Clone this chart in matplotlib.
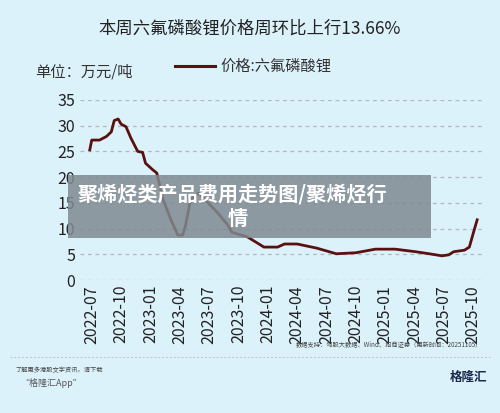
import matplotlib
matplotlib.use("Agg")
import matplotlib.pyplot as plt
from matplotlib.patches import Rectangle

plt.rcParams['font.family'] = ['Noto Sans CJK SC', 'DejaVu Sans']

months = [-0.2,0.0,0.8,1.5,2.0,2.3,2.7,3.0,3.5,4.0,4.7,5.2,5.5,6.25,6.65,7.3,8.1,8.8,9.3,9.6,10.1,10.9,11.9,12.9,13.9,14.3,15.9,17.6,19.0,19.7,21.0,23.0,25.0,27.0,29.0,31.0,33.1,34.5,35.8,36.5,37.0,38.1,38.6,39.0,39.4]
price = [25.3,27.2,27.2,27.9,28.8,31.0,31.3,30.3,29.8,27.6,25.0,24.8,22.7,21.4,20.8,15.6,11.7,8.75,8.75,10.7,15.6,16.9,15.0,13.0,10.7,9.3,8.4,6.4,6.4,7.0,7.0,6.2,5.1,5.3,6.0,6.0,5.5,5.1,4.7,4.9,5.5,5.8,6.4,9.1,11.7]
tick_pos = list(range(0, 40, 3))
tick_labels = ["2022-07","2022-10","2023-01","2023-04","2023-07","2023-10","2024-01","2024-04","2024-07","2024-10","2025-01","2025-04","2025-07","2025-10"]

bg = '#dcf2fb'
fig = plt.figure(figsize=(5, 4.13), dpi=100, facecolor=bg)
ax = fig.add_axes([0.16, 0.322, 0.81, 0.436], facecolor=bg)
ax.plot(months, price, color='#5a1010', lw=2.0)
ax.set_ylim(0, 35)
ax.set_xlim(-1.2, 40.2)
ax.set_yticks(range(0, 36, 5))
ax.set_xticks(tick_pos)
ax.set_xticklabels(tick_labels, rotation=90, fontsize=11.5, color='#222222')
ax.tick_params(axis='y', labelsize=11.5, colors='#222222', length=0)
ax.tick_params(axis='x', length=0)
ax.grid(axis='y', ls=(0, (3, 3)), color='#b0b8bc', lw=0.9)
for s in ax.spines.values():
    s.set_visible(False)

fig.text(0.5, 0.93, "本周六氟磷酸锂价格周环比上行13.66%", ha='center', va='center', fontsize=12.5, color='#222222')
fig.text(0.07, 0.825, "单位：万元/吨", ha='left', va='center', fontsize=11, color='#333333')
fig.add_artist(plt.Line2D([0.35, 0.43], [0.84, 0.84], color='#5a1010', lw=2.2))
fig.text(0.44, 0.84, "价格:六氟磷酸锂", ha='left', va='center', fontsize=11, color='#333333')

fig.patches.append(Rectangle((0.135, 0.424), 0.727, 0.153, transform=fig.transFigure, facecolor='#7f8a90', alpha=0.85, edgecolor='none'))
fig.text(0.155, 0.53, "聚烯烃类产品费用走势图/聚烯烃行", ha='left', va='center', fontsize=14.5, color='white', fontweight='bold')
fig.text(0.475, 0.472, "情", ha='center', va='center', fontsize=14.5, color='white', fontweight='bold')

fig.text(0.965, 0.167, "数据支持：勾股大数据、Wind、招商证券（更新时间：20251105）", ha='right', va='center', fontsize=4.5, color='#444444')
fig.add_artist(plt.Line2D([0.02, 0.98], [0.135, 0.135], color='#b8c4c8', lw=0.7, ls=(0, (2, 2))))
fig.text(0.03, 0.103, "了解更多港股文字资讯，请下载", ha='left', va='center', fontsize=4.5, color='#444444', style='italic')
fig.text(0.04, 0.072, "“格隆汇App”", ha='left', va='center', fontsize=6.5, color='#555555', style='italic')
fig.text(0.975, 0.085, "格隆汇", ha='right', va='center', fontsize=9, color='#1a2a4a', fontweight='bold')

fig.savefig("out.png", dpi=100, facecolor=bg)
